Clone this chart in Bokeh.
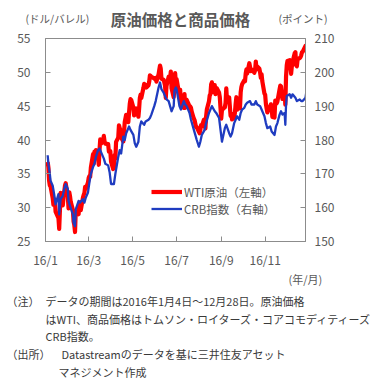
import pandas as pd
from bokeh.plotting import figure
from bokeh.layouts import column
from bokeh.models import Range1d, LinearAxis, FixedTicker, Legend, LegendItem
from bokeh.core.properties import value
from bokeh.embed import file_html
from bokeh.resources import INLINE

FONT = "Noto Sans CJK JP"

wti_dates = [
    "01-04", "01-05", "01-06", "01-07", "01-08", "01-11", "01-12", "01-13", "01-14", "01-15",
    "01-19", "01-20", "01-21", "01-22", "01-25", "01-26", "01-27", "01-28", "01-29",
    "02-01", "02-02", "02-03", "02-04", "02-05", "02-08", "02-09", "02-10", "02-11", "02-12",
    "02-16", "02-17", "02-18", "02-19", "02-22", "02-23", "02-24", "02-25", "02-26", "02-29",
    "03-01", "03-02", "03-03", "03-04", "03-07", "03-08", "03-09", "03-10", "03-11", "03-14",
    "03-15", "03-16", "03-17", "03-18", "03-21", "03-22", "03-23", "03-24", "03-28", "03-29",
    "03-30", "03-31",
    "04-01", "04-04", "04-05", "04-06", "04-07", "04-08", "04-11", "04-12", "04-13", "04-14",
    "04-15", "04-18", "04-19", "04-20", "04-21", "04-22", "04-25", "04-26", "04-27", "04-28", "04-29",
    "05-02", "05-03", "05-04", "05-05", "05-06", "05-09", "05-10", "05-11", "05-12", "05-13",
    "05-16", "05-17", "05-18", "05-19", "05-20", "05-23", "05-24", "05-25", "05-26", "05-27", "05-31",
    "06-01", "06-02", "06-03", "06-06", "06-07", "06-08", "06-09", "06-10", "06-13", "06-14",
    "06-15", "06-16", "06-17", "06-20", "06-21", "06-22", "06-23", "06-24", "06-27", "06-28",
    "06-29", "06-30",
    "07-01", "07-05", "07-06", "07-07", "07-08", "07-11", "07-12", "07-13", "07-14", "07-15",
    "07-18", "07-19", "07-20", "07-21", "07-22", "07-25", "07-26", "07-27", "07-28", "07-29",
    "08-01", "08-02", "08-03", "08-04", "08-05", "08-08", "08-09", "08-10", "08-11", "08-12",
    "08-15", "08-16", "08-17", "08-18", "08-19", "08-22", "08-23", "08-24", "08-25", "08-26",
    "08-29", "08-30", "08-31",
    "09-01", "09-02", "09-06", "09-07", "09-08", "09-09", "09-12", "09-13", "09-14", "09-15",
    "09-16", "09-19", "09-20", "09-21", "09-22", "09-23", "09-26", "09-27", "09-28", "09-29", "09-30",
    "10-03", "10-04", "10-05", "10-06", "10-07", "10-10", "10-11", "10-12", "10-13", "10-14",
    "10-17", "10-18", "10-19", "10-20", "10-21", "10-24", "10-25", "10-26", "10-27", "10-28", "10-31",
    "11-01", "11-02", "11-03", "11-04", "11-07", "11-08", "11-09", "11-10", "11-11", "11-14",
    "11-15", "11-16", "11-17", "11-18", "11-21", "11-22", "11-23", "11-25", "11-28", "11-29", "11-30",
    "12-01", "12-02", "12-05", "12-06", "12-07", "12-08", "12-09", "12-12", "12-13", "12-14",
    "12-15", "12-16", "12-19", "12-20", "12-21", "12-22", "12-23", "12-27", "12-28",
]
wti_values = [
    36.76, 35.97, 33.97, 33.27, 33.16, 31.41, 30.44, 30.48, 31.20, 29.42,
    28.46, 26.85, 29.53, 32.19, 30.34, 31.45, 32.30, 33.22, 33.62,
    31.62, 29.88, 32.28, 31.72, 30.89, 29.69, 27.94, 27.45, 26.40, 29.44,
    29.04, 30.66, 30.77, 29.64, 31.48, 31.87, 32.15, 33.07, 32.78, 33.75,
    34.40, 34.66, 34.57, 35.92, 37.90, 36.50, 38.29, 37.84, 38.50, 37.18,
    36.34, 38.46, 40.10, 39.44, 39.91, 40.60, 39.79, 39.46, 39.39, 38.28,
    38.32, 38.34,
    36.79, 35.70, 35.89, 37.75, 37.26, 39.72, 40.36, 42.17, 41.76, 41.50,
    40.36, 39.78, 41.08, 42.63, 43.18, 43.73, 42.64, 44.04, 45.33, 46.03, 45.92,
    44.78, 43.65, 43.78, 44.32, 44.66, 43.44, 44.66, 46.23, 46.70, 46.21,
    47.72, 48.31, 48.19, 48.16, 47.75, 48.08, 48.62, 49.56, 49.48, 49.33, 49.10,
    49.01, 49.17, 48.62, 49.69, 50.36, 51.00, 50.56, 49.07, 48.88, 48.49,
    48.01, 46.21, 47.98, 49.37, 48.85, 49.13, 50.11, 47.64, 46.33, 47.85,
    49.88, 48.33,
    48.99, 46.60, 47.43, 45.14, 45.41, 44.76, 46.80, 44.75, 45.68, 45.95,
    45.24, 44.65, 44.94, 44.75, 44.19, 43.13, 42.92, 42.40, 41.90, 41.90,
    41.20, 41.00, 41.50, 42.20, 42.00, 43.02, 42.77, 41.71, 43.49, 44.49,
    45.74, 46.58, 46.79, 48.22, 48.52, 47.05, 48.10, 46.77, 47.33, 47.64,
    46.98, 46.35, 44.70,
    43.16, 44.44, 44.83, 45.50, 47.62, 45.88, 46.29, 44.90, 43.58, 43.91,
    43.03, 43.30, 44.05, 45.34, 46.32, 44.48, 45.93, 44.67, 47.05, 47.83, 48.24,
    48.81, 48.69, 49.83, 50.44, 49.81, 51.35, 50.79, 50.18, 50.44, 50.35,
    49.94, 50.29, 51.60, 50.43, 50.85, 50.52, 49.96, 49.18, 49.72, 48.70, 46.86,
    46.67, 45.34, 44.66, 44.07, 44.89, 44.98, 45.27, 44.66, 43.41, 43.32,
    45.81, 45.57, 45.42, 45.69, 47.49, 48.03, 47.96, 46.06, 47.08, 45.23, 49.44,
    51.06, 51.68, 51.79, 50.93, 49.77, 50.84, 51.50, 52.83, 52.98, 51.04,
    50.90, 51.90, 52.12, 52.23, 52.49, 52.95, 53.02, 53.90, 54.06,
]

crb_dates = [
    "01-04", "01-05", "01-07", "01-08", "01-11", "01-13", "01-15", "01-19", "01-20", "01-22",
    "01-25", "01-27", "01-29",
    "02-01", "02-02", "02-04", "02-08", "02-09", "02-11", "02-12", "02-16", "02-18", "02-22",
    "02-24", "02-26", "02-29",
    "03-02", "03-04", "03-07", "03-09", "03-11", "03-14", "03-16", "03-18", "03-22", "03-24",
    "03-28", "03-30",
    "04-01", "04-05", "04-07", "04-11", "04-13", "04-15", "04-18", "04-20", "04-22", "04-26", "04-28",
    "05-02", "05-04", "05-06", "05-09", "05-11", "05-13", "05-17", "05-19", "05-23", "05-25",
    "05-27", "05-31",
    "06-02", "06-06", "06-08", "06-10", "06-13", "06-15", "06-17", "06-20", "06-22", "06-24",
    "06-27", "06-28", "06-30",
    "07-01", "07-05", "07-07", "07-11", "07-13", "07-15", "07-19", "07-21", "07-25", "07-27", "07-29",
    "08-01", "08-03", "08-05", "08-09", "08-11", "08-15", "08-17", "08-19", "08-23", "08-25",
    "08-29", "08-31",
    "09-02", "09-06", "09-08", "09-12", "09-14", "09-16", "09-19", "09-21", "09-23", "09-26",
    "09-28", "09-30",
    "10-03", "10-05", "10-07", "10-11", "10-13", "10-17", "10-19", "10-21", "10-25", "10-27", "10-31",
    "11-02", "11-04", "11-08", "11-10", "11-14", "11-16", "11-18", "11-21", "11-23", "11-25",
    "11-28", "11-29", "11-30",
    "12-01", "12-05", "12-07", "12-09", "12-13", "12-15", "12-19", "12-21", "12-23", "12-27", "12-28",
]
crb_values = [
    175.5, 173.0, 170.0, 168.0, 166.5, 164.0, 161.0, 164.0, 158.0, 162.5,
    163.5, 165.5, 167.0,
    165.5, 162.0, 160.5, 158.0, 155.5, 154.5, 159.5, 162.0, 161.5, 162.5,
    161.5, 163.0, 164.5,
    167.5, 170.0, 172.0, 173.0, 175.0, 177.0, 177.5, 176.5, 174.5, 173.0,
    172.5, 170.5,
    167.0, 167.0, 170.0, 175.0, 177.0, 176.0, 181.0, 180.0, 182.0, 184.0, 183.0,
    181.5, 179.0, 178.0, 179.5, 184.0, 185.5, 184.5, 185.5, 186.0, 186.5,
    187.5, 190.0,
    191.5, 195.5, 197.0, 195.0, 194.0, 193.0, 192.0, 191.5, 190.0, 188.5,
    190.0, 194.5, 195.5,
    195.0, 190.0, 189.0, 191.5, 190.5, 190.0, 188.0, 186.0, 183.0, 181.5, 180.0,
    178.0, 179.5, 181.5, 183.0, 185.0, 188.0, 189.0, 190.0, 188.5, 188.0,
    186.5, 183.0,
    179.5, 183.5, 184.5, 182.0, 181.0, 182.0, 185.0, 186.0, 187.0, 186.0,
    188.0, 189.0,
    189.5, 190.5, 191.0, 191.5, 190.5, 190.5, 191.5, 190.5, 190.0, 189.0, 187.0,
    185.0, 183.5, 184.0, 182.5, 181.5, 184.0, 185.0, 187.5, 188.5, 187.5,
    188.0, 184.5, 190.5,
    193.0, 193.5, 192.5, 193.5, 192.5, 191.5, 192.0, 191.5, 191.5, 192.5, 194.0,
]

left_ticks = [25, 30, 35, 40, 45, 50, 55]
right_ticks = [150, 160, 170, 180, 190, 200, 210]
month_tick_dates = ["01-01", "03-01", "05-01", "07-01", "09-01", "11-01"]
month_tick_labels = ["16/1", "16/3", "16/5", "16/7", "16/9", "16/11"]

title_text = "原油価格と商品価格"
left_unit = "(ドル/バレル)"
right_unit = "(ポイント)"
x_unit = "(年/月)"
legend_labels = ["WTI原油（左軸）", "CRB指数（右軸）"]
note_lines = [
    "（注）",
    "データの期間は2016年1月4日～12月28日。原油価格",
    "はWTI、商品価格はトムソン・ロイターズ・コアコモディティーズ",
    "CRB指数。",
    "（出所）",
    "Datastreamのデータを基に三井住友アセット",
    "マネジメント作成",
]

base = pd.Timestamp("2016-01-01")


def to_day(md_list):
    return [(pd.Timestamp("2016-" + d) - base).days for d in md_list]


wti_x = to_day(wti_dates)
crb_x = to_day(crb_dates)
tick_x = to_day(month_tick_dates)

AX = "#8c8c8c"
LBL = "#595959"
NOTE = "#3a3a3a"
W = 375


def text_panel(h):
    f = figure(width=W, height=h, output_backend="svg", toolbar_location=None,
               x_range=Range1d(0, W), y_range=Range1d(h, 0),
               x_axis_type=None, y_axis_type=None, frame_align=False,
               min_border_left=0, min_border_right=0, min_border_top=0, min_border_bottom=0)
    f.grid.visible = False
    f.outline_line_color = None
    f.background_fill_color = "white"
    f.border_fill_color = "white"
    return f


def put(f, x, y, txt, size, color, align="left", bold=False):
    f.text(x=[x], y=[y], text=[txt], text_font=value(FONT), text_font_size=size,
           text_color=color, text_align=align, text_baseline="middle",
           text_font_style="bold" if bold else "normal")


# --- top panel (title + units) ---
top = text_panel(30)
put(top, 180, 18, title_text, "15.5px", LBL, align="center", bold=True)
put(top, 25, 18, left_unit, "10.5px", LBL)
put(top, 278, 18, right_unit, "10.5px", LBL)

# --- main chart ---
p = figure(
    width=W, height=240, output_backend="svg", toolbar_location=None, frame_align=False,
    x_range=Range1d(0, 361), y_range=Range1d(25, 55),
    min_border_left=45, min_border_right=70, min_border_top=8, min_border_bottom=26,
)
p.extra_y_ranges = {"crb": Range1d(150, 210)}
p.outline_line_color = AX
p.outline_line_width = 1
p.xgrid.visible = False
p.ygrid.visible = False
p.background_fill_color = "white"
p.border_fill_color = "white"


def style_axis(ax, standoff):
    ax.axis_line_color = AX
    ax.major_tick_line_color = AX
    ax.major_tick_in = 5
    ax.major_tick_out = 0
    ax.minor_tick_line_color = None
    ax.major_label_text_font = FONT
    ax.major_label_text_font_size = "12px"
    ax.major_label_text_color = LBL
    ax.major_label_standoff = standoff


xax = p.xaxis[0]
xax.ticker = FixedTicker(ticks=tick_x)
xax.major_label_overrides = {t: l for t, l in zip(tick_x, month_tick_labels)}
style_axis(xax, 9)

yax = p.yaxis[0]
yax.ticker = FixedTicker(ticks=left_ticks)
style_axis(yax, 15)

rax = LinearAxis(y_range_name="crb", ticker=FixedTicker(ticks=right_ticks))
style_axis(rax, 9)
p.add_layout(rax, "right")

r_wti = p.line(wti_x, wti_values, line_color="#ff0000", line_width=4.2, line_join="round")
r_crb = p.line(crb_x, crb_values, y_range_name="crb", line_color="#1f3cc0", line_width=2.3,
               line_join="round")

legend = Legend(
    items=[LegendItem(label=legend_labels[0], renderers=[r_wti]),
           LegendItem(label=legend_labels[1], renderers=[r_crb])],
    location=(106, 24), padding=0, margin=0, spacing=0,
    glyph_width=31, glyph_height=17, label_height=17, label_standoff=2,
    border_line_color=None, background_fill_alpha=0,
    label_text_font=FONT, label_text_font_size="11.5px", label_text_color=LBL,
)
p.add_layout(legend)

# --- bottom panel (x unit + notes); page y offset 270 ---
bot = text_panel(113)
put(bot, 288, 8, x_unit, "11px", LBL)
put(bot, 6, 30, note_lines[0], "11px", NOTE)
put(bot, 45, 30, note_lines[1], "11px", NOTE)
put(bot, 45, 48, note_lines[2], "11px", NOTE)
put(bot, 45, 65, note_lines[3], "11px", NOTE)
put(bot, 6, 83, note_lines[4], "11px", NOTE)
put(bot, 61, 83, note_lines[5], "11px", NOTE)
put(bot, 58, 101, note_lines[6], "11px", NOTE)

layout = column(top, p, bot, spacing=0)
open("out.html", "w").write(file_html(layout, INLINE))
